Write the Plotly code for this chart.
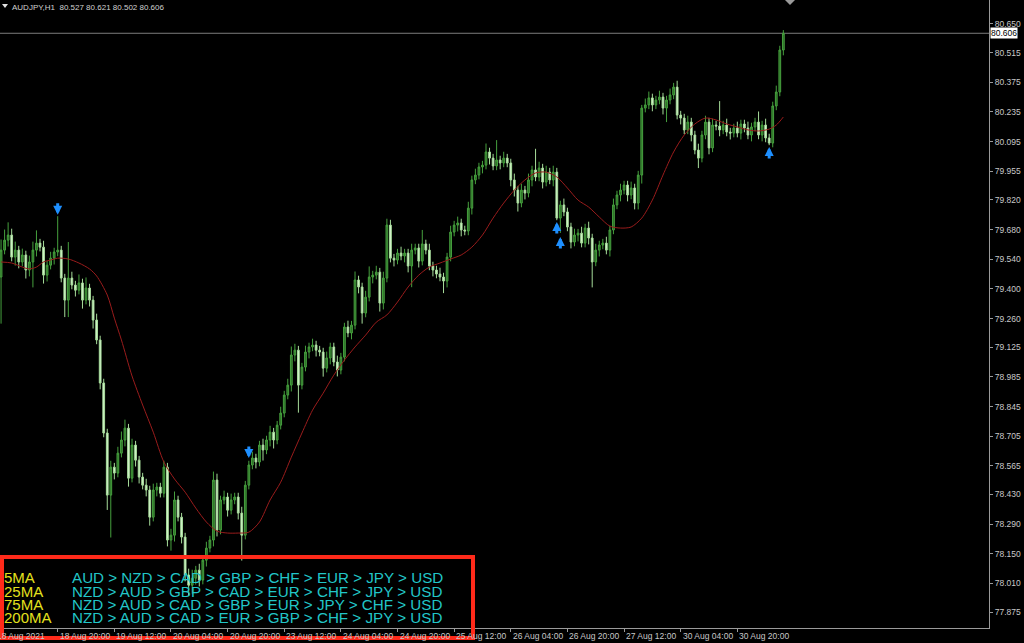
import plotly.graph_objects as go

# ---------------- data ----------------
symbol_title = "AUDJPY,H1  80.527 80.621 80.502 80.606"
first_open = 79.456

closes = [
    79.583, 79.630, 79.654, 79.550, 79.583, 79.527, 79.560, 79.489, 79.527, 79.583,
    79.616, 79.597, 79.465, 79.512, 79.545, 79.574, 79.583, 79.451, 79.347, 79.451,
    79.418, 79.394, 79.428, 79.347, 79.404, 79.347, 79.253, 79.159, 78.956, 78.720,
    78.427, 78.559, 78.531, 78.625, 78.687, 78.743, 78.507, 78.663, 78.592, 78.512,
    78.474, 78.451, 78.323, 78.451, 78.465, 78.436, 78.559, 78.215, 78.238, 78.404,
    78.323, 78.229, 78.050, 78.002, 78.035, 78.073, 78.026, 78.120, 78.177, 78.215,
    78.498, 78.262, 78.404, 78.418, 78.356, 78.404, 78.418, 78.342, 78.238, 78.474,
    78.569, 78.602, 78.583, 78.663, 78.640, 78.687, 78.724, 78.687, 78.757, 78.814,
    78.899, 78.946, 79.088, 79.111, 78.946, 79.031, 79.102, 79.126, 79.135, 79.111,
    79.102, 79.026, 79.074, 79.126, 79.055, 79.017, 79.078, 79.220, 79.192, 79.229,
    79.442, 79.409, 79.286, 79.361, 79.456, 79.465, 79.479, 79.333, 79.451, 79.701,
    79.545, 79.536, 79.569, 79.555, 79.569, 79.508, 79.583, 79.593, 79.531, 79.612,
    79.583, 79.508, 79.489, 79.470, 79.456, 79.437, 79.550, 79.668, 79.701, 79.711,
    79.678, 79.673, 79.781, 79.914, 79.937, 79.975, 79.984, 80.046, 80.017, 79.980,
    80.008, 79.994, 80.017, 79.994, 79.914, 79.866, 79.805, 79.866, 79.852, 79.914,
    79.961, 79.928, 79.970, 79.904, 79.951, 79.914, 79.951, 79.734, 79.796, 79.763,
    79.692, 79.621, 79.654, 79.663, 79.616, 79.687, 79.640, 79.527, 79.583, 79.607,
    79.616, 79.583, 79.678, 79.796, 79.843, 79.866, 79.890, 79.843, 79.876, 79.805,
    79.937, 80.253, 80.268, 80.301, 80.268, 80.291, 80.305, 80.253, 80.291, 80.315,
    80.352, 80.220, 80.206, 80.150, 80.187, 80.126, 80.055, 80.017, 80.126, 80.187,
    80.065, 80.173, 80.168, 80.150, 80.173, 80.140, 80.135, 80.159, 80.135, 80.178,
    80.159, 80.126, 80.164, 80.187, 80.126, 80.173, 80.112, 80.088, 80.263, 80.329,
    80.527, 80.606,
]

upper_wick = [
    0.05, 0.05, 0.06, 0.03, 0.04, 0.02, 0.03, 0.02, 0.03, 0.04,
    0.06, 0.02, 0.03, 0.02, 0.03, 0.02, 0.16, 0.02, 0.02, 0.17,
    0.03, 0.02, 0.04, 0.02, 0.05, 0.02, 0.02, 0.03, 0.02, 0.02,
    0.02, 0.03, 0.02, 0.03, 0.04, 0.04, 0.02, 0.03, 0.02, 0.02,
    0.02, 0.03, 0.02, 0.03, 0.02, 0.02, 0.03, 0.02, 0.03, 0.04,
    0.02, 0.02, 0.02, 0.03, 0.04, 0.02, 0.03, 0.02, 0.03, 0.02,
    0.04, 0.03, 0.02, 0.03, 0.02, 0.03, 0.02, 0.02, 0.03, 0.02,
    0.02, 0.03, 0.02, 0.02, 0.03, 0.02, 0.03, 0.02, 0.02, 0.03,
    0.02, 0.03, 0.04, 0.03, 0.02, 0.02, 0.03, 0.02, 0.03, 0.02,
    0.02, 0.02, 0.03, 0.02, 0.02, 0.03, 0.02, 0.02, 0.03, 0.02,
    0.04, 0.02, 0.02, 0.03, 0.05, 0.02, 0.03, 0.02, 0.03, 0.03,
    0.025, 0.02, 0.02, 0.03, 0.02, 0.02, 0.03, 0.02, 0.02, 0.066,
    0.02, 0.03, 0.02, 0.02, 0.03, 0.02, 0.02, 0.03, 0.02, 0.03,
    0.02, 0.02, 0.03, 0.02, 0.03, 0.02, 0.02, 0.04, 0.02, 0.02,
    0.094, 0.02, 0.03, 0.02, 0.02, 0.03, 0.02, 0.03, 0.02, 0.03,
    0.02, 0.10, 0.03, 0.02, 0.03, 0.02, 0.03, 0.02, 0.02, 0.03,
    0.02, 0.02, 0.03, 0.02, 0.03, 0.02, 0.03, 0.02, 0.03, 0.02,
    0.02, 0.03, 0.02, 0.03, 0.02, 0.03, 0.02, 0.02, 0.03, 0.02,
    0.02, 0.015, 0.03, 0.03, 0.02, 0.02, 0.03, 0.02, 0.02, 0.03,
    0.02, 0.03, 0.02, 0.02, 0.03, 0.02, 0.02, 0.03, 0.02, 0.03,
    0.02, 0.03, 0.02, 0.118, 0.02, 0.03, 0.02, 0.02, 0.03, 0.02,
    0.02, 0.03, 0.02, 0.02, 0.05, 0.02, 0.03, 0.02, 0.02, 0.03,
    0.02, 0.015,
]

lower_wick = [
    0.22, 0.02, 0.03, 0.02, 0.04, 0.03, 0.02, 0.04, 0.03, 0.12,
    0.03, 0.02, 0.04, 0.03, 0.02, 0.03, 0.02, 0.02, 0.08, 0.08,
    0.02, 0.03, 0.02, 0.04, 0.02, 0.03, 0.04, 0.02, 0.03, 0.02,
    0.07, 0.20, 0.03, 0.02, 0.02, 0.03, 0.04, 0.02, 0.03, 0.03,
    0.02, 0.03, 0.04, 0.02, 0.03, 0.02, 0.02, 0.03, 0.05, 0.03,
    0.02, 0.03, 0.03, 0.05, 0.04, 0.03, 0.03, 0.02, 0.03, 0.02,
    0.03, 0.03, 0.02, 0.02, 0.03, 0.02, 0.02, 0.03, 0.12, 0.02,
    0.02, 0.02, 0.03, 0.02, 0.05, 0.02, 0.03, 0.04, 0.02, 0.02,
    0.02, 0.02, 0.03, 0.03, 0.13, 0.02, 0.02, 0.03, 0.02, 0.03,
    0.02, 0.04, 0.02, 0.03, 0.02, 0.03, 0.02, 0.02, 0.02, 0.03,
    0.02, 0.03, 0.05, 0.02, 0.02, 0.03, 0.02, 0.04, 0.03, 0.02,
    0.02, 0.03, 0.02, 0.02, 0.03, 0.03, 0.10, 0.02, 0.03, 0.02,
    0.02, 0.02, 0.03, 0.02, 0.02, 0.057, 0.03, 0.02, 0.02, 0.03,
    0.03, 0.02, 0.02, 0.03, 0.02, 0.02, 0.03, 0.02, 0.03, 0.02,
    0.02, 0.03, 0.02, 0.02, 0.03, 0.03, 0.04, 0.02, 0.03, 0.02,
    0.03, 0.02, 0.02, 0.03, 0.02, 0.02, 0.03, 0.01, 0.07, 0.02,
    0.02, 0.03, 0.02, 0.03, 0.02, 0.02, 0.03, 0.12, 0.02, 0.03,
    0.02, 0.02, 0.03, 0.02, 0.02, 0.03, 0.02, 0.03, 0.02, 0.03,
    0.03, 0.04, 0.02, 0.02, 0.03, 0.02, 0.02, 0.03, 0.066, 0.02,
    0.02, 0.02, 0.03, 0.02, 0.02, 0.03, 0.02, 0.047, 0.02, 0.02,
    0.03, 0.02, 0.02, 0.03, 0.02, 0.02, 0.03, 0.02, 0.02, 0.03,
    0.02, 0.02, 0.03, 0.02, 0.02, 0.03, 0.02, 0.01, 0.02, 0.02,
    0.02, 0.025,
]

# moving average line (read at sample bars)
ma_bars = [0, 3, 6, 8, 10, 12, 14, 16, 19, 22, 25, 27, 30, 32, 34, 37, 40, 43, 46, 49,
           52, 55, 58, 61, 64, 67, 70, 73, 76, 79, 82, 85, 88, 91, 94, 97, 100, 103, 106,
           109, 112, 115, 118, 121, 124, 127, 130, 133, 136, 139, 142, 145, 148, 151, 154,
           157, 160, 163, 166, 169, 172, 175, 178, 181, 184, 187, 190, 193, 196, 199, 202,
           205, 208, 211, 214, 217, 219, 221]
ma_vals = [79.527, 79.522, 79.503, 79.494, 79.503, 79.527, 79.536, 79.545, 79.541, 79.522,
           79.494, 79.461, 79.371, 79.262, 79.159, 78.989, 78.852, 78.724, 78.583, 78.503,
           78.441, 78.366, 78.300, 78.257, 78.248, 78.248, 78.252, 78.300, 78.404, 78.488,
           78.606, 78.720, 78.828, 78.908, 78.993, 79.064, 79.126, 79.182, 79.243, 79.277,
           79.338, 79.409, 79.465, 79.503, 79.522, 79.541, 79.560, 79.597, 79.654, 79.734,
           79.805, 79.866, 79.914, 79.947, 79.951, 79.928, 79.876, 79.819, 79.786, 79.739,
           79.696, 79.687, 79.692, 79.734, 79.819, 79.937, 80.046, 80.126, 80.178, 80.206,
           80.197, 80.178, 80.164, 80.150, 80.145, 80.154, 80.173, 80.211]

sig_down_bars = [16, 70]
sig_down_prices = [79.750, 78.602]
sig_up_bars = [157, 158, 217]
sig_up_prices = [79.715, 79.645, 80.069]

y_ticks = [80.650, 80.515, 80.375, 80.235, 80.095, 79.955, 79.820, 79.680, 79.540, 79.400,
           79.260, 79.125, 78.985, 78.845, 78.705, 78.565, 78.430, 78.290, 78.150, 78.010, 77.875]
x_label_bars = [0, 16, 32, 48, 64, 80, 96, 112, 128, 144, 160, 176, 192, 208]
x_label_text = ["18 Aug 2021", "18 Aug 20:00", "19 Aug 12:00", "20 Aug 04:00", "20 Aug 20:00",
                "23 Aug 12:00", "24 Aug 04:00", "24 Aug 20:00", "25 Aug 12:00", "26 Aug 04:00",
                "26 Aug 20:00", "27 Aug 12:00", "30 Aug 04:00", "30 Aug 20:00"]
current_price = 80.606

ma_labels = ["5MA", "25MA", "75MA", "200MA"]
strength_rows = [
    ["AUD", "NZD", "CAD", "GBP", "CHF", "EUR", "JPY", "USD"],
    ["NZD", "AUD", "GBP", "CAD", "EUR", "CHF", "JPY", "USD"],
    ["NZD", "AUD", "CAD", "GBP", "EUR", "JPY", "CHF", "USD"],
    ["NZD", "AUD", "CAD", "EUR", "GBP", "CHF", "JPY", "USD"],
]

# ---------------- build figure ----------------
n = len(closes)
bars = list(range(n))
opens = [first_open] + closes[:-1]
highs = [max(o, c) + u for o, c, u in zip(opens, closes, upper_wick)]
lows = [min(o, c) - l for o, c, l in zip(opens, closes, lower_wick)]

W, H = 1024, 643
PL, PR, PT, PB = 0, 35, 0, 15
pw, ph = W - PL - PR, H - PT - PB


def px(xpix):
    return (xpix - PL) / pw


def py(ypix):
    return 1 - (ypix - PT) / ph


fig = go.Figure()
fig.add_trace(go.Candlestick(
    x=bars, open=opens, high=highs, low=lows, close=closes,
    increasing=dict(line=dict(color="#46a03e", width=1), fillcolor="#2a6a25"),
    decreasing=dict(line=dict(color="#a6dc9a", width=1), fillcolor="#dcf7d4"),
    whiskerwidth=0, hoverinfo="skip", showlegend=False,
))
fig.add_trace(go.Scatter(
    x=ma_bars, y=ma_vals, mode="lines",
    line=dict(color="#9a1c1c", width=1, shape="spline", smoothing=0.8),
    hoverinfo="skip", showlegend=False,
))

annotations = []
arrow_color = "#1e8fff"
for b, p in zip(sig_down_bars, sig_down_prices):
    annotations.append(dict(x=b, y=p, xref="x", yref="y", text="", showarrow=True,
                            ax=0, ay=-13, arrowhead=2, arrowsize=0.6, arrowwidth=3,
                            arrowcolor=arrow_color, standoff=0))
for b, p in zip(sig_up_bars, sig_up_prices):
    annotations.append(dict(x=b, y=p, xref="x", yref="y", text="", showarrow=True,
                            ax=0, ay=13, arrowhead=2, arrowsize=0.6, arrowwidth=3,
                            arrowcolor=arrow_color, standoff=0))

# x-axis labels (left aligned at their bar like MT4)
for b, t in zip(x_label_bars, x_label_text):
    annotations.append(dict(x=b, y=py(636), xref="x", yref="paper", text=t, showarrow=False,
                            xanchor="left", yanchor="middle", xshift=(-6 if b == 0 else 0),
                            font=dict(family="Liberation Sans", size=8.5, color="#c8c8c8")))

# title
annotations.append(dict(x=px(10), y=py(7), xref="paper", yref="paper", text=symbol_title,
                        showarrow=False, xanchor="left", yanchor="middle",
                        font=dict(family="Liberation Sans", size=8, color="#d0d0d0")))

# current price label
annotations.append(dict(x=1, y=current_price, xref="paper", yref="y",
                        text=f"{current_price:.3f}", showarrow=False, xanchor="left",
                        yanchor="middle", xshift=1, bgcolor="#ffffff", borderpad=0,
                        font=dict(family="Liberation Sans", size=8.5, color="#000000")))

# strength table
row_y = [577.5, 591, 604.3, 617.5]
for lab, row, yy in zip(ma_labels, strength_rows, row_y):
    annotations.append(dict(x=px(2), y=py(yy), xref="paper", yref="paper", text=lab,
                            showarrow=False, xanchor="left", yanchor="middle",
                            font=dict(family="Liberation Sans", size=15, color="#e4e01e")))
    annotations.append(dict(x=px(70), y=py(yy), xref="paper", yref="paper",
                            text=" > ".join(row), showarrow=False, xanchor="left",
                            yanchor="middle",
                            font=dict(family="Liberation Sans", size=15.2, color="#22c6c8")))

shapes = [
    dict(type="line", xref="paper", yref="y", x0=0, x1=1, y0=current_price, y1=current_price,
         line=dict(color="#7c7c7c", width=1), layer="below"),
    dict(type="rect", xref="paper", yref="paper", x0=px(2), x1=px(473), y0=py(638), y1=py(557),
         line=dict(color="#ff2a1a", width=4), fillcolor="rgba(0,0,0,0)"),
    dict(type="path", xref="paper", yref="paper",
         path=f"M {px(785)},{py(0)} L {px(795)},{py(0)} L {px(790)},{py(5)} Z",
         fillcolor="#9a9a9a", line=dict(width=0)),
    dict(type="path", xref="paper", yref="paper",
         path=f"M {px(2)},{py(4)} L {px(8)},{py(4)} L {px(5)},{py(8)} Z",
         fillcolor="#e0e0e0", line=dict(width=0)),
]

fig.update_layout(
    width=W, height=H,
    margin=dict(l=PL, r=PR, t=PT, b=PB, pad=0),
    paper_bgcolor="#000000", plot_bgcolor="#000000",
    annotations=annotations, shapes=shapes,
    xaxis=dict(range=[-0.3, 279.1], showgrid=False, zeroline=False, showline=True,
               linecolor="#9a9a9a", linewidth=1, tickvals=x_label_bars, ticks="outside",
               ticklen=3, tickcolor="#9a9a9a", showticklabels=False,
               rangeslider=dict(visible=False), fixedrange=True),
    yaxis=dict(range=[77.800, 80.763], side="right", showgrid=False, zeroline=False,
               showline=True, linecolor="#9a9a9a", linewidth=1, tickvals=y_ticks,
               ticktext=[f"{v:.3f}" for v in y_ticks], ticks="outside", ticklen=3,
               tickcolor="#9a9a9a",
               tickfont=dict(family="Liberation Sans", size=8.5, color="#c8c8c8"),
               fixedrange=True),
    showlegend=False,
)

fig.write_html(
    "out.html",
    config={"displayModeBar": False},
    post_script="document.body.style.margin='0';document.body.style.background='#000';",
)
